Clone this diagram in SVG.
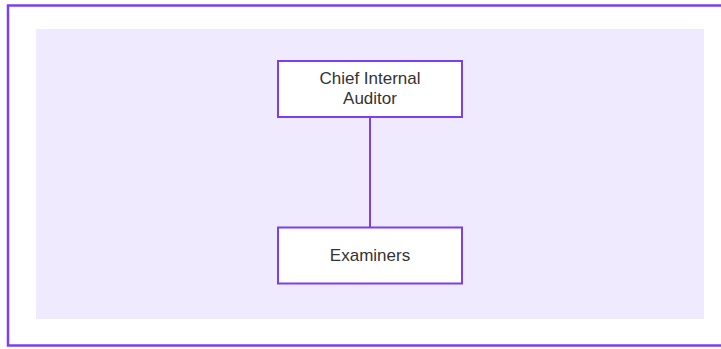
<svg xmlns="http://www.w3.org/2000/svg" width="721" height="349" viewBox="0 0 721 349">
<style>
.node rect{fill:#ffffff;stroke:#7b3ff2;stroke-width:2}
.lbl{font-family:"Liberation Sans",Arial,sans-serif;font-size:17px;fill:#333333;text-anchor:middle}
.edge{stroke:#7b3ff2;stroke-width:2;fill:none}
</style>
<rect x="8" y="5.5" width="720" height="340" fill="#ffffff" stroke="#7b3ff2" stroke-width="2.5"/>
<rect x="36" y="29" width="668" height="290" fill="#efeafd"/>
<g id="connectors">
<line class="edge" x1="370" y1="117" x2="370" y2="227"/>
</g>
<g id="chief" class="node">
<rect x="278" y="61" width="184" height="56"/>
<text class="lbl" x="370" y="83.5">Chief Internal</text>
<text class="lbl" x="370" y="103.5">Auditor</text>
</g>
<g id="examiners" class="node">
<rect x="278" y="227.5" width="184" height="56"/>
<text class="lbl" x="370" y="260.5">Examiners</text>
</g>
</svg>
